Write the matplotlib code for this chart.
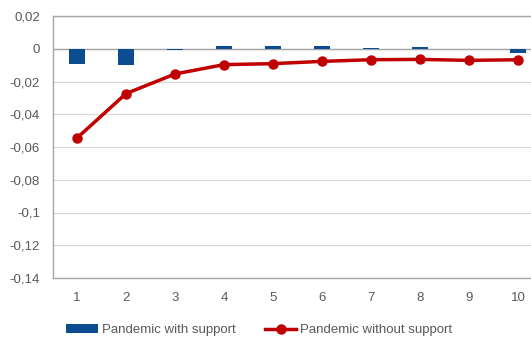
import matplotlib
matplotlib.use("Agg")
import matplotlib.pyplot as plt
from matplotlib.ticker import FuncFormatter

periods = [1, 2, 3, 4, 5, 6, 7, 8, 9, 10]
with_support = [-0.0093, -0.0100, -0.0010, 0.0017, 0.0017, 0.0017, 0.0005, 0.0010, 0.0, -0.0023]
without_support = [-0.0545, -0.0274, -0.0154, -0.0097, -0.0091, -0.0077, -0.0067, -0.0065, -0.0071, -0.0067]
yticks = [0.02, 0, -0.02, -0.04, -0.06, -0.08, -0.1, -0.12, -0.14]

plt.rcParams['font.family'] = ['Liberation Sans', 'DejaVu Sans']
text_color = '#595959'

fig = plt.figure(figsize=(5.31, 3.41), dpi=100)
ax = fig.add_axes([52.5 / 531, 1 - 278 / 341, 490 / 531, 262 / 341])

ax.set_ylim(-0.14, 0.02)
ax.set_xlim(0.5, 10.5)
ax.set_yticks(yticks)
ax.yaxis.grid(True, color='#d9d9d9', linewidth=0.9)
ax.set_axisbelow(True)
ax.axhline(0, color='#a6a6a6', linewidth=1.0, zorder=1)

bars = ax.bar(periods, with_support, width=0.31, color='#0b4d8f', zorder=2,
              label='Pandemic with support')
line, = ax.plot(periods, without_support, color='#c00000', linewidth=2.5, marker='o',
                markersize=6.5, zorder=3, label='Pandemic without support')

def fmt(v, pos):
    s = ('%.2f' % v).rstrip('0').rstrip('.')
    if s in ('-0', ''):
        s = '0'
    return s.replace('.', ',')

ax.yaxis.set_major_formatter(FuncFormatter(fmt))
ax.set_xticks(periods)
ax.set_xticklabels([str(p) for p in periods])
ax.tick_params(axis='both', length=0, labelsize=9.5, colors=text_color)
ax.tick_params(axis='x', pad=10)
ax.tick_params(axis='y', pad=9)

for side in ['top', 'left', 'bottom']:
    ax.spines[side].set_color('#a6a6a6')
    ax.spines[side].set_linewidth(1.0)
ax.spines['right'].set_visible(False)

leg = fig.legend(handles=[bars, line], labels=['Pandemic with support', 'Pandemic without support'],
                 loc='center', bbox_to_anchor=(0.5 - 6 / 531, 1 - 330 / 341), ncol=2,
                 frameon=False, fontsize=9.5, handlelength=2.4, handleheight=0.6,
                 columnspacing=2.2, handletextpad=0.3)
for t in leg.get_texts():
    t.set_color(text_color)

fig.savefig('out.png', dpi=100)
